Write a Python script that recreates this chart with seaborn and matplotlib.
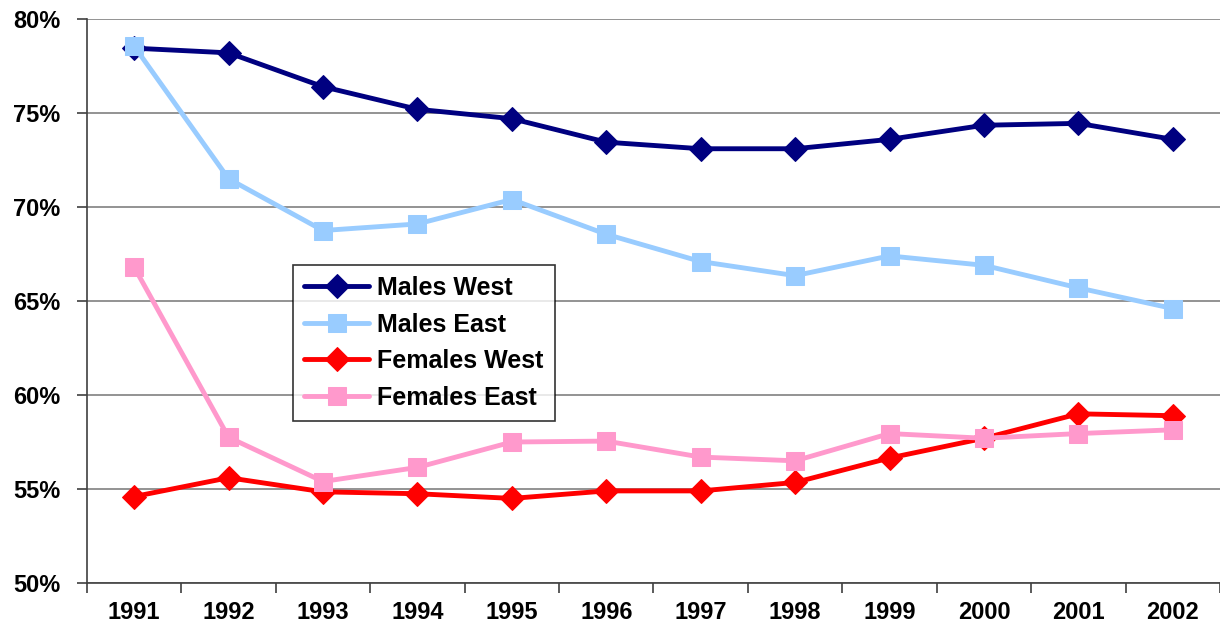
import matplotlib
matplotlib.use("Agg")
import matplotlib.pyplot as plt
import pandas as pd
import seaborn as sns
from matplotlib.ticker import FixedLocator, FuncFormatter

years = ["1991", "1992", "1993", "1994", "1995", "1996",
         "1997", "1998", "1999", "2000", "2001", "2002"]

males_west = [78.45, 78.2, 76.4, 75.2, 74.7, 73.45, 73.1, 73.1, 73.6, 74.35, 74.45, 73.6]
males_east = [78.55, 71.5, 68.75, 69.1, 70.4, 68.55, 67.1, 66.35, 67.4, 66.9, 65.7, 64.6]
females_west = [54.6, 55.6, 54.85, 54.75, 54.5, 54.9, 54.9, 55.35, 56.65, 57.7, 59.0, 58.9]
females_east = [66.8, 57.75, 55.4, 56.15, 57.5, 57.55, 56.7, 56.5, 57.95, 57.7, 57.95, 58.15]

series = [
    ("Males West", males_west, "#000080", "D"),
    ("Males East", males_east, "#99CCFF", "s"),
    ("Females West", females_west, "#FF0000", "D"),
    ("Females East", females_east, "#FF99CC", "s"),
]

sns.set_style("white")
plt.rcParams['font.family'] = ['Liberation Sans', 'DejaVu Sans']
plt.rcParams['font.weight'] = 'bold'
plt.rcParams['text.color'] = 'black'
plt.rcParams['xtick.color'] = 'black'
plt.rcParams['ytick.color'] = 'black'

fig = plt.figure(figsize=(12.2, 6.34), dpi=100)
ax = fig.add_axes([0.0713, 0.0804, 0.9287, 0.8896])

for name, vals, color, marker in series:
    df = pd.DataFrame({"year": years, "value": vals})
    ms = 12 if marker == "D" else 12.5
    sns.lineplot(data=df, x="year", y="value", ax=ax, color=color, marker=marker,
                 markersize=ms, markeredgecolor=color, linewidth=3.5, label=name)

ax.set_xlim(-0.5, 11.5)
ax.set_ylim(50, 80)
ax.set_yticks([50, 55, 60, 65, 70, 75, 80])
ax.yaxis.set_major_formatter(FuncFormatter(lambda v, p: f"{v:.0f}%"))
ax.yaxis.grid(True, color="#808080", linewidth=1.2)
ax.set_axisbelow(True)

# category boundaries as ticks, labels in the middle
ax.xaxis.set_major_locator(FixedLocator([i - 0.5 for i in range(13)]))
ax.xaxis.set_major_formatter(FuncFormatter(lambda v, p: ""))
ax.xaxis.set_minor_locator(FixedLocator(list(range(12))))
ax.set_xticklabels(years, minor=True)
ax.tick_params(axis="x", which="major", bottom=True, length=7, width=1.2,
               color="#404040", direction="out")
ax.tick_params(axis="x", which="minor", bottom=True, length=0, pad=13,
               labelsize=17, labelcolor="black")
ax.tick_params(axis="y", left=True, length=7, width=1.2, color="#404040",
               direction="out", labelsize=17, pad=12, labelcolor="black")
for lab in ax.get_xticklabels(minor=True) + ax.get_yticklabels():
    lab.set_fontweight("bold")

ax.set_xlabel("")
ax.set_ylabel("")
for side in ["top", "right"]:
    ax.spines[side].set_visible(False)
for side in ["left", "bottom"]:
    ax.spines[side].set_color("#404040")
    ax.spines[side].set_linewidth(1.2)

leg = ax.legend(loc="upper left", bbox_to_anchor=(0.182, 0.564), frameon=True,
                fancybox=False, edgecolor="black", prop={"size": 18, "weight": "bold"},
                handlelength=2.6, labelspacing=0.5, borderpad=0.45, borderaxespad=0,
                handletextpad=0.3)
leg.get_frame().set_linewidth(1.2)
for t in leg.get_texts():
    t.set_color("black")

fig.savefig("out.png", dpi=100)
